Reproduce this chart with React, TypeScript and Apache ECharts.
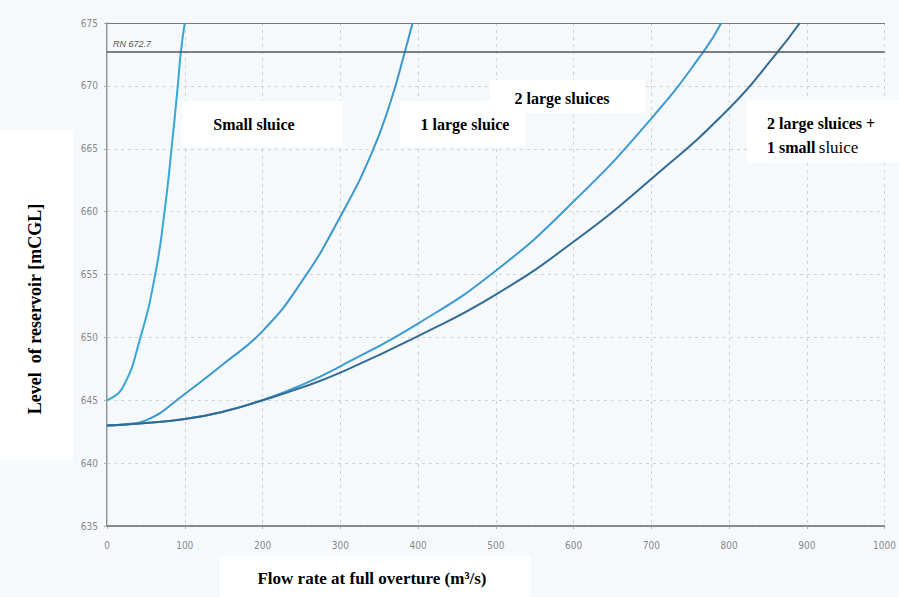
import React, { useEffect, useRef } from "react";
import * as echarts from "echarts";

// ---- data ----
const xTicks = [0, 100, 200, 300, 400, 500, 600, 700, 800, 900, 1000];
const yTicks = [635, 640, 645, 650, 655, 660, 665, 670, 675];

const flowSmall = [0, 20, 43, 62, 74, 83, 91, 95, 100];
const levelSmall = [645, 646, 650, 655, 660, 665, 670, 672.7, 675];

const flowOneLarge = [0, 25, 50, 100, 150, 200, 250, 300, 340, 365, 383, 393];
const levelOneLarge = [643, 643.1, 643.4, 645.5, 647.9, 650.5, 654.4, 659.6, 664.6, 668.8, 672.7, 675];

const flowTwoLarge = [0, 50, 100, 150, 200, 250, 300, 400, 500, 600, 700, 767, 790];
const levelTwoLarge = [643, 643.2, 643.5, 644.1, 645.0, 646.2, 647.7, 651.1, 655.3, 660.8, 667.4, 672.7, 675];

const flowAll = [0, 50, 100, 150, 200, 250, 300, 400, 500, 600, 700, 800, 860, 891];
const levelAll = [643, 643.2, 643.5, 644.1, 645.0, 646.0, 647.2, 650.1, 653.4, 657.6, 662.6, 668.2, 672.5, 675];

const rnLevel = 672.7;
const rnLabel = "RN 672.7";

const seriesNames = ["Small sluice", "1 large sluice", "2 large sluices", "2 large sluices + 1 small sluice"];
const yTitle = "Level  of reservoir [mCGL]";
const xTitle = "Flow rate at full overture (m³/s)";

const zip = (xs: number[], ys: number[]) => xs.map((x, i) => [x, ys[i]]);

const tickFont = "'Liberation Sans Narrow', 'DejaVu Sans Condensed', 'Liberation Sans', sans-serif";
const serif = "'Liberation Serif', 'DejaVu Serif', serif";

export default function App() {
  const ref = useRef<HTMLDivElement>(null);

  useEffect(() => {
    document.body.style.margin = "0";
    const chart = echarts.init(ref.current!, undefined, { renderer: "svg" });

    const lineSeries = (name: string, data: number[][], color: string, extra: any = {}) => ({
      name,
      type: "line",
      data,
      showSymbol: false,
      symbol: "none",
      smooth: 0.5,
      clip: true,
      lineStyle: { color, width: 2 },
      z: 3,
      ...extra,
    });

    const box = (x: number, y: number, w: number, h: number) => ({
      type: "rect",
      z: 1,
      shape: { x, y, width: w, height: h },
      style: { fill: "#ffffff" },
      silent: true,
    });
    const label = (text: string, x: number, y: number, weight = "bold", align = "left") => ({
      type: "text",
      z: 5,
      x,
      y,
      style: {
        text,
        fill: "#000",
        font: `${weight} 16px ${serif}`,
        align,
        verticalAlign: "middle",
      },
      silent: true,
    });

    const tickLabel = { color: "#888", fontSize: 10, fontFamily: tickFont, formatter: (v: number) => String(v) };

    chart.setOption({
      animation: false,
      backgroundColor: "#f6f9fc",
      grid: { left: 107, right: 6, top: 23, bottom: 71 },
      xAxis: [
        {
          type: "value",
          min: xTicks[0],
          max: xTicks[xTicks.length - 1],
          interval: 100,
          axisLine: { show: true, lineStyle: { color: "#666", width: 1.5 } },
          axisTick: { show: true, length: 3, lineStyle: { color: "#aaa" } },
          axisLabel: { margin: 14, ...tickLabel },
          splitLine: { show: true, lineStyle: { color: "#cdd2d6", type: [3, 4], width: 1 } },
        },
        {
          type: "value",
          position: "top",
          min: xTicks[0],
          max: xTicks[xTicks.length - 1],
          axisLine: { show: true, lineStyle: { color: "#777", width: 1.2 } },
          axisTick: { show: false },
          axisLabel: { show: false },
          splitLine: { show: false },
        },
      ],
      yAxis: [
        {
          type: "value",
          min: yTicks[0],
          max: yTicks[yTicks.length - 1],
          interval: 5,
          axisLine: { show: true, lineStyle: { color: "#666", width: 1.5 } },
          axisTick: { show: true, length: 3, lineStyle: { color: "#aaa" } },
          axisLabel: { margin: 9, ...tickLabel },
          splitLine: { show: true, lineStyle: { color: "#cdd2d6", type: [3, 4], width: 1 } },
        },
        {
          type: "value",
          position: "right",
          min: yTicks[0],
          max: yTicks[yTicks.length - 1],
          axisLine: { show: true, lineStyle: { color: "#c8cdd2", width: 1.2 } },
          axisTick: { show: false },
          axisLabel: { show: false },
          splitLine: { show: false },
        },
      ],
      series: [
        lineSeries(seriesNames[0], zip(flowSmall, levelSmall), "#36a8d6"),
        lineSeries(seriesNames[1], zip(flowOneLarge, levelOneLarge), "#3a98cb"),
        lineSeries(seriesNames[2], zip(flowTwoLarge, levelTwoLarge), "#3b9ad0"),
        lineSeries(seriesNames[3], zip(flowAll, levelAll), "#316a92", {
          markLine: {
            silent: true,
            symbol: ["none", "none"],
            lineStyle: { color: "#555", width: 1.5, type: "solid" },
            label: {
              show: true,
              position: "insideStartTop",
              formatter: rnLabel,
              color: "#555",
              fontSize: 9,
              fontStyle: "italic",
              fontFamily: "'Liberation Sans', sans-serif",
              distance: [6, 3],
            },
            data: [{ yAxis: rnLevel }],
          },
        }),
      ],
      graphic: [
        box(0, 130, 73, 330),
        box(220, 556, 310, 41),
        box(182, 101, 161, 46),
        box(400, 101, 125, 46),
        box(490, 80, 155, 33),
        box(747, 100, 152, 63),
        {
          type: "text",
          z: 5,
          x: 35,
          y: 309,
          rotation: Math.PI / 2,
          style: {
            text: yTitle,
            fill: "#000",
            font: `bold 18px ${serif}`,
            align: "center",
            verticalAlign: "middle",
          },
          silent: true,
        },
        {
          type: "text",
          z: 5,
          x: 372,
          y: 578,
          style: {
            text: xTitle,
            fill: "#000",
            font: `bold 17px ${serif}`,
            align: "center",
            verticalAlign: "middle",
          },
          silent: true,
        },
        label("Small sluice", 254, 124, "bold", "center"),
        label("1 large sluice", 465, 124, "bold", "center"),
        label("2 large sluices", 562, 98, "bold", "center"),
        label("2 large sluices +", 767, 123),
        {
          type: "text",
          z: 5,
          x: 767,
          y: 147,
          style: {
            text: "{b|1 small} {r|sluice}",
            verticalAlign: "middle",
            rich: {
              b: { font: `bold 16px ${serif}`, fill: "#000" },
              r: { font: `normal 17px ${serif}`, fill: "#000" },
            },
          },
          silent: true,
        },
      ],
    });

    return () => chart.dispose();
  }, []);

  return <div ref={ref} style={{ width: 899, height: 597 }} />;
}
